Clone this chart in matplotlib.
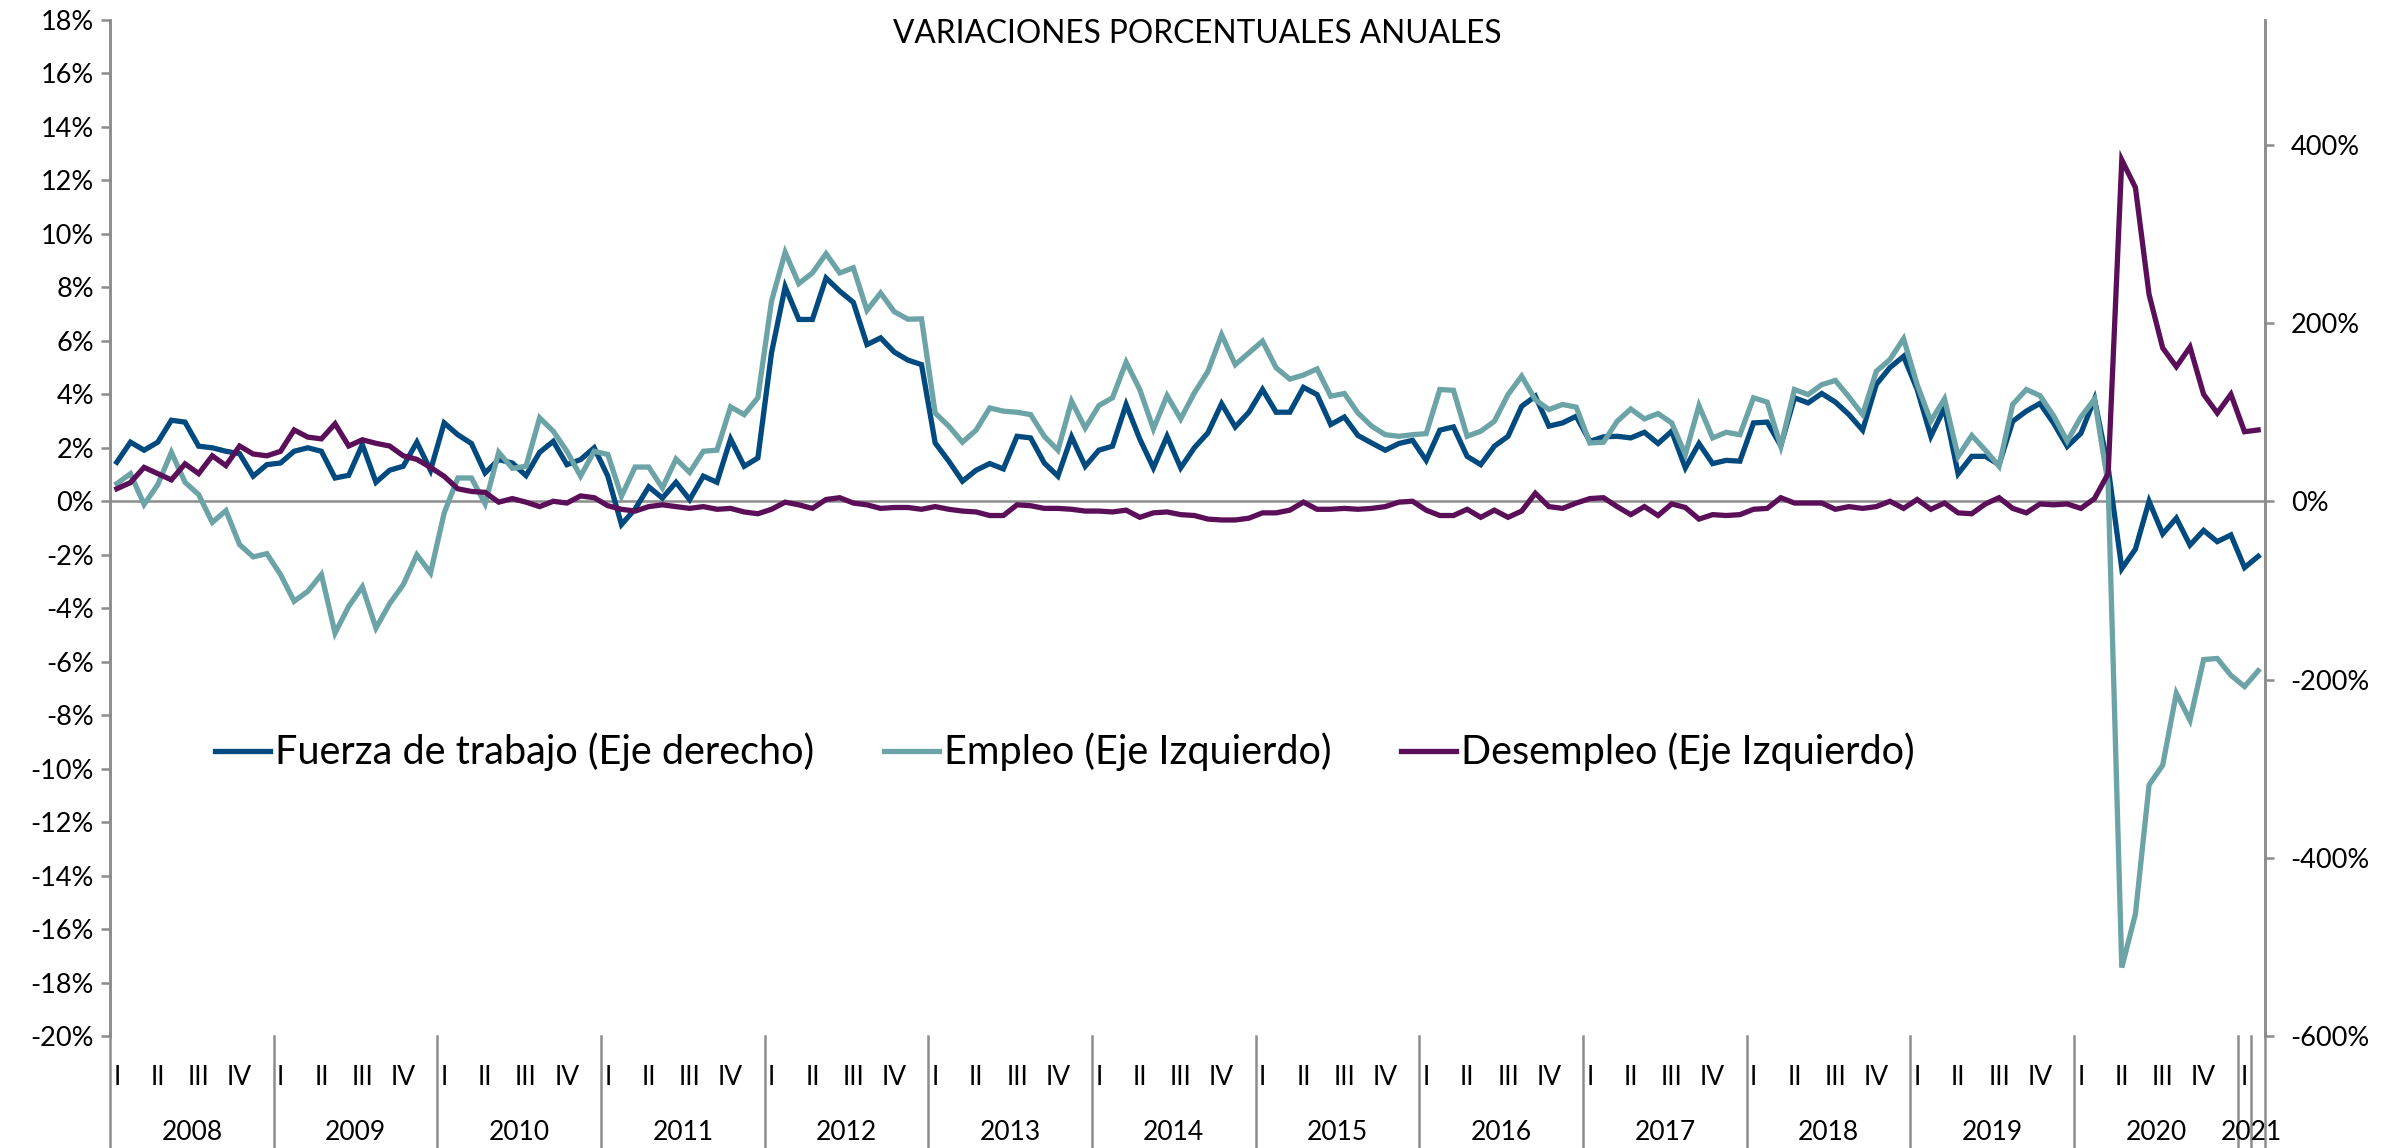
import numpy as np
import matplotlib
matplotlib.use("Agg")
import matplotlib.pyplot as plt
import matplotlib.transforms as mtransforms

# monthly series, Jan 2008 - Feb 2021
fuerza_trabajo = [
    1.46, 2.21, 1.91, 2.21, 3.03, 2.96, 2.06, 2.00, 1.87, 1.78, 0.94, 1.37,
    1.43, 1.87, 2.00, 1.87, 0.87, 0.97, 2.12, 0.71, 1.16, 1.31, 2.21, 1.16,
    2.93, 2.49, 2.16, 1.06, 1.56, 1.43, 0.96, 1.83, 2.24, 1.37, 1.56, 2.00,
    0.94, -0.87, -0.29, 0.54, 0.12, 0.71, 0.06, 0.94, 0.71, 2.33, 1.31, 1.62,
    5.55, 8.02, 6.80, 6.80, 8.35, 7.86, 7.44, 5.86, 6.11, 5.58, 5.28, 5.11,
    2.18, 1.50, 0.75, 1.16, 1.41, 1.21, 2.43, 2.37, 1.43, 0.94, 2.41, 1.31,
    1.91, 2.06, 3.62, 2.33, 1.25, 2.43, 1.25, 2.00, 2.56, 3.65, 2.78, 3.33,
    4.18, 3.33, 3.33, 4.26, 3.99, 2.87, 3.15, 2.46, 2.18, 1.91, 2.16, 2.28,
    1.53, 2.66, 2.78, 1.68, 1.37, 2.06, 2.43, 3.55, 3.93, 2.81, 2.93, 3.18,
    2.24, 2.41, 2.43, 2.37, 2.58, 2.16, 2.62, 1.25, 2.16, 1.41, 1.53, 1.50,
    2.93, 2.96, 2.08, 3.87, 3.68, 4.03, 3.71, 3.24, 2.66, 4.37, 5.00, 5.42,
    4.18, 2.43, 3.49, 1.03, 1.68, 1.68, 1.37, 2.99, 3.37, 3.66, 2.92, 2.05,
    2.54, 3.82, 1.26, -2.52, -1.79, 0.00, -1.22, -0.63, -1.64, -1.09, -1.51, -1.26,
    -2.48, -2.06,
]

empleo = [
    0.66, 1.03, -0.12, 0.62, 1.83, 0.71, 0.25, -0.79, -0.35, -1.62, -2.08, -1.96,
    -2.74, -3.74, -3.37, -2.74, -4.93, -3.93, -3.20, -4.74, -3.83, -3.12, -2.00, -2.68,
    -0.44, 0.87, 0.87, -0.09, 1.83, 1.23, 1.31, 3.12, 2.62, 1.87, 0.94, 1.87,
    1.75, 0.19, 1.28, 1.28, 0.50, 1.58, 1.08, 1.87, 1.91, 3.53, 3.24, 3.87,
    7.48, 9.31, 8.14, 8.54, 9.26, 8.54, 8.73, 7.14, 7.79, 7.09, 6.81, 6.82,
    3.30, 2.81, 2.21, 2.66, 3.49, 3.37, 3.33, 3.24, 2.43, 1.91, 3.74, 2.74,
    3.58, 3.87, 5.20, 4.18, 2.71, 3.95, 3.08, 4.05, 4.86, 6.23, 5.11, 5.55,
    5.99, 4.99, 4.57, 4.72, 4.95, 3.93, 4.03, 3.30, 2.81, 2.49, 2.43, 2.49,
    2.53, 4.18, 4.15, 2.43, 2.62, 2.99, 3.99, 4.68, 3.80, 3.43, 3.62, 3.52,
    2.18, 2.21, 2.99, 3.45, 3.08, 3.28, 2.93, 1.75, 3.58, 2.37, 2.58, 2.49,
    3.87, 3.71, 2.06, 4.18, 3.99, 4.36, 4.52, 3.90, 3.24, 4.86, 5.30, 6.08,
    4.36, 3.00, 3.83, 1.68, 2.46, 1.91, 1.31, 3.62, 4.18, 3.95, 3.20, 2.25,
    3.15, 3.82, 0.63, -17.44, -15.44, -10.61, -9.87, -7.18, -8.19, -5.92, -5.88, -6.51,
    -6.93, -6.34,
]

desempleo = [
    14, 21, 38, 31, 24, 42, 31, 51, 40, 62, 53, 51,
    56, 80, 72, 70, 87, 62, 69, 65, 62, 51, 47, 38,
    28, 14, 11, 10, -1, 3, -1, -6, 0, -2, 6, 4,
    -5, -9, -11, -6, -4, -6, -8, -6, -9, -8, -12, -14,
    -9, -1, -4, -8, 2, 4, -2, -4, -8, -7, -7, -9,
    -6, -9, -11, -12, -16, -16, -4, -5, -8, -8, -9, -11,
    -11, -12, -10, -18, -13, -12, -15, -16, -20, -21, -21, -19,
    -13, -13, -10, -1, -9, -9, -8, -9, -8, -6, -1, 0,
    -10, -16, -16, -9, -18, -10, -18, -11, 9, -6, -8, -2,
    3, 4, -6, -15, -6, -16, -3, -7, -20, -15, -16, -15,
    -9, -8, 4, -2, -2, -2, -9, -6, -8, -6, 0, -8,
    2, -9, -2, -13, -14, -3, 4, -8, -13, -3, -4, -3,
    -8, 3, 31, 383, 352, 232, 172, 151, 173, 120, 99, 120,
    78, 80,
]

years = ["2008", "2009", "2010", "2011", "2012", "2013", "2014",
         "2015", "2016", "2017", "2018", "2019", "2020", "2021"]
quarters = ["I", "II", "III", "IV"]

left_ticks = list(range(-20, 19, 2))
right_ticks = list(range(-600, 401, 200))

c_fuerza = "#004A7F"
c_empleo = "#6BA3A7"
c_desempleo = "#5B0F58"
grey = "#8C8C8C"
font = "Lato"

fig = plt.figure(figsize=(23.92, 11.48), dpi=100)
fig.patch.set_facecolor("white")

ax = fig.add_axes([110 / 2392, 1 - 1036 / 1148, 2155 / 2392, 1016 / 1148])
ax2 = ax.twinx()

x = np.arange(len(fuerza_trabajo))

ax.axhline(0, color=grey, linewidth=1.8, zorder=1)
l1, = ax.plot(x, fuerza_trabajo, color=c_fuerza, linewidth=3.8, zorder=3,
              solid_joinstyle="miter")
l2, = ax.plot(x, empleo, color=c_empleo, linewidth=3.8, zorder=4,
              solid_joinstyle="miter")
l3, = ax2.plot(x, desempleo, color=c_desempleo, linewidth=3.8, zorder=3,
               solid_joinstyle="miter")

ax.set_xlim(-0.5, len(x) - 0.5)
ax.set_ylim(-20, 18)
ax2.set_ylim(-600, 540)

ax.set_yticks(left_ticks)
ax.set_yticklabels([f"{v}%" for v in left_ticks])
ax2.set_yticks(right_ticks)
ax2.set_yticklabels([f"{v}%" for v in right_ticks])
ax.set_xticks([])

for a in (ax, ax2):
    for side in ("top", "bottom"):
        a.spines[side].set_visible(False)
    a.spines["left"].set_color(grey)
    a.spines["right"].set_color(grey)
    a.spines["left"].set_linewidth(1.8)
    a.spines["right"].set_linewidth(1.8)

ax.tick_params(axis="y", direction="out", length=6.5, width=1.8, color=grey,
               pad=5, labelsize=19.5)
ax2.tick_params(axis="y", direction="out", length=6.5, width=1.8, color=grey,
                pad=12, labelsize=19.5)
for lab in ax.get_yticklabels() + ax2.get_yticklabels():
    lab.set_fontfamily(font)

# category axis below the plot: quarters, years and separators
trans = mtransforms.blended_transform_factory(ax.transData, ax.transAxes)
bottom = -112 / 1016
for k, year in enumerate(years):
    start = 12 * k
    for q, qlab in enumerate(quarters):
        m = start + 3 * q
        if m < len(x):
            ax.text(m, -0.0404, qlab, transform=trans, ha="center", va="center",
                    fontsize=19, fontfamily=font)
    end = min(start + 12, len(x))
    ax.text((start + end - 1) / 2, -0.0945, year, transform=trans,
            ha="center", va="center", fontsize=19, fontfamily=font)
    ax.plot([start - 0.5, start - 0.5], [0, bottom], transform=trans,
            color=grey, linewidth=1.8, clip_on=False)
ax.plot([len(x) - 1.5, len(x) - 1.5], [0, bottom], transform=trans,
        color=grey, linewidth=1.8, clip_on=False)
ax.plot([len(x) - 0.5, len(x) - 0.5], [0, bottom], transform=trans,
        color=grey, linewidth=1.8, clip_on=False)

fig.text(1197 / 2392, 1 - 34 / 1148, "VARIACIONES PORCENTUALES ANUALES",
         ha="center", va="center", fontsize=22.8, fontfamily=font)

leg = ax2.legend(
    [l1, l2, l3],
    ["Fuerza de trabajo (Eje derecho)", "Empleo (Eje Izquierdo)",
     "Desempleo (Eje Izquierdo)"],
    ncol=3,
    loc="center",
    bbox_to_anchor=(0.443, 0.2795),
    frameon=False,
    handlelength=1.4,
    handletextpad=0.12,
    columnspacing=1.75,
    prop={"family": font, "size": 28.5},
)

plt.savefig("out.png", dpi=100, facecolor=fig.get_facecolor())
